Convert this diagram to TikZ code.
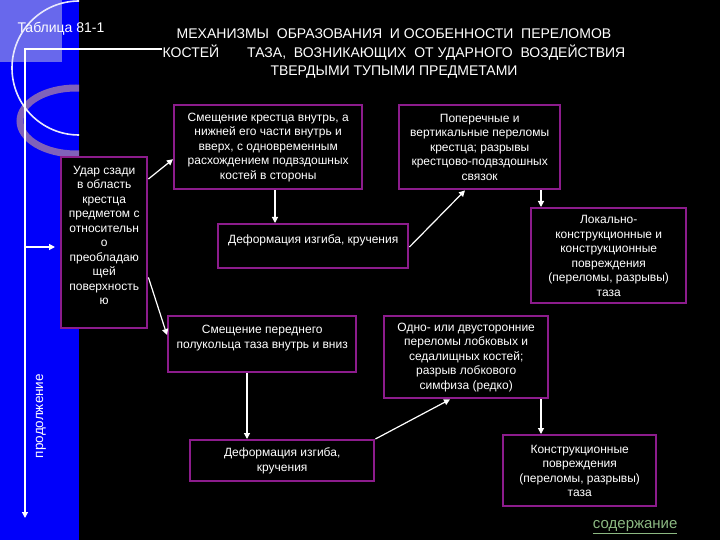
\documentclass[tikz,border=0pt]{standalone}
\usepackage{fontspec}
\setmainfont{Liberation Sans}
\usetikzlibrary{arrows.meta}
\definecolor{stripblue}{RGB}{0,0,250}
\definecolor{lavender}{RGB}{104,104,236}
\definecolor{ringpurple}{RGB}{128,98,186}
\definecolor{boxline}{RGB}{140,28,140}
\definecolor{linkgreen}{RGB}{140,185,130}
\tikzset{
  mbox/.style = {
    rectangle, draw=boxline, line width=2.4pt, fill=black,
    text=white, font=\fontsize{12}{14.5}\selectfont, align=center,
    anchor=north west, inner sep=2pt
  },
  head/.style = {
    text=white, font=\fontsize{14}{18.5}\selectfont, align=center
  },
  arrow/.style = {-{Triangle[length=6pt,width=6pt]}, white, line width=1.2pt}
}

\begin{document}
\begin{tikzpicture}[x=1pt, y=-1pt]

  \useasboundingbox (0,0) rectangle (720,540);
  \fill[black] (0,0) rectangle (720,540);
  \fill[stripblue] (0,0) rectangle (79,540);
  \begin{scope}
    \clip (0,0) rectangle (79,540);
    \fill[lavender] (0,0) rectangle (62,62);
    \draw[ringpurple, line width=7pt] (76,121) ellipse [x radius=56, y radius=33];
    \draw[white!85!lavender, line width=1.6pt] (79,68) circle [radius=67];
  \end{scope}

  \node[head] (title) at (394,54)
    {МЕХАНИЗМЫ\ \ ОБРАЗОВАНИЯ\ \ И ОСОБЕННОСТИ\ \ ПЕРЕЛОМОВ\\
     КОСТЕЙ\hspace{2em}ТАЗА,\ \ ВОЗНИКАЮЩИХ\ \ ОТ УДАРНОГО\ \ ВОЗДЕЙСТВИЯ\\
     ТВЕРДЫМИ ТУПЫМИ ПРЕДМЕТАМИ};
  \node[text=white, font=\fontsize{14}{16}\selectfont, anchor=west] (tab) at (14,29) {Таблица 81-1};
  \node[text=white, font=\fontsize{13.5}{15}\selectfont, rotate=90] (cont) at (41,416) {продолжение};
  \node[text=linkgreen, font=\fontsize{15}{17}\selectfont, anchor=east] (link) at (681,527) {\underline{содержание}};

  \node[mbox, minimum width=86, minimum height=171] (udar) at (60,156)
    {Удар сзади\\в область\\крестца\\предметом с\\относительн\\о\\преобладаю\\щей\\поверхность\\ю\\\mbox{}};
  \node[mbox, minimum width=188, minimum height=84] (shift) at (173,104)
    {Смещение крестца внутрь, а\\нижней его части внутрь и\\вверх, с одновременным\\расхождением подвздошных\\костей в стороны};
  \node[mbox, minimum width=161, minimum height=84] (cross) at (398,104)
    {Поперечные и\\вертикальные переломы\\крестца; разрывы\\крестцово-подвздошных\\связок};
  \node[mbox, minimum width=190, minimum height=44] (bend) at (217,223)
    {Деформация изгиба, кручения\\\mbox{}};
  \node[mbox, minimum width=155, minimum height=95] (local) at (530,207)
    {Локально-\\конструкционные и\\конструкционные\\повреждения\\(переломы, разрывы)\\таза};
  \node[mbox, minimum width=188, minimum height=56] (front) at (167,315)
    {Смещение переднего\\полукольца таза внутрь и вниз\\\mbox{}};
  \node[mbox, minimum width=164, minimum height=82] (pubis) at (383,315)
    {Одно- или двусторонние\\переломы лобковых и\\седалищных костей;\\разрыв лобкового\\симфиза (редко)};
  \node[mbox, minimum width=184, minimum height=41] (twist) at (189,439)
    {Деформация изгиба,\\кручения};
  \node[mbox, minimum width=153, minimum height=71] (damage) at (502,434)
    {Конструкционные\\повреждения\\(переломы, разрывы)\\таза};

  \coordinate (lt) at (25,49);
  \coordinate (rt) at (162,49);
  \coordinate (lb) at (25,518);
  \coordinate (lm) at (25,247);

  \draw[arrow] (rt) -- (lt) -- (lb);
  \draw[arrow, shorten >=5pt] (lm) -- (lm -| udar.west);
  \draw[arrow] ([yshift=-23pt]udar.north east) -- ([yshift=-12pt]shift.west);
  \draw[arrow] ([yshift=52pt]udar.south east) -- ([yshift=-20pt]front.north west);
  \draw[arrow] ([xshift=102pt]shift.south west) -- ([xshift=58pt]bend.north west);
  \draw[arrow] ([yshift=-24pt]bend.north east) -- ([xshift=67pt]cross.south west);
  \draw[arrow] ([xshift=11pt]local.north west |- cross.south) -- ([xshift=11pt]local.north west);
  \draw[arrow] ([xshift=80pt]front.south west) -- ([xshift=58pt]twist.north west);
  \draw[arrow] (twist.north east) -- ([xshift=67pt]pubis.south west);
  \draw[arrow] ([xshift=39pt]damage.north west |- pubis.south) -- ([xshift=39pt]damage.north west);

\end{tikzpicture}
\end{document}
